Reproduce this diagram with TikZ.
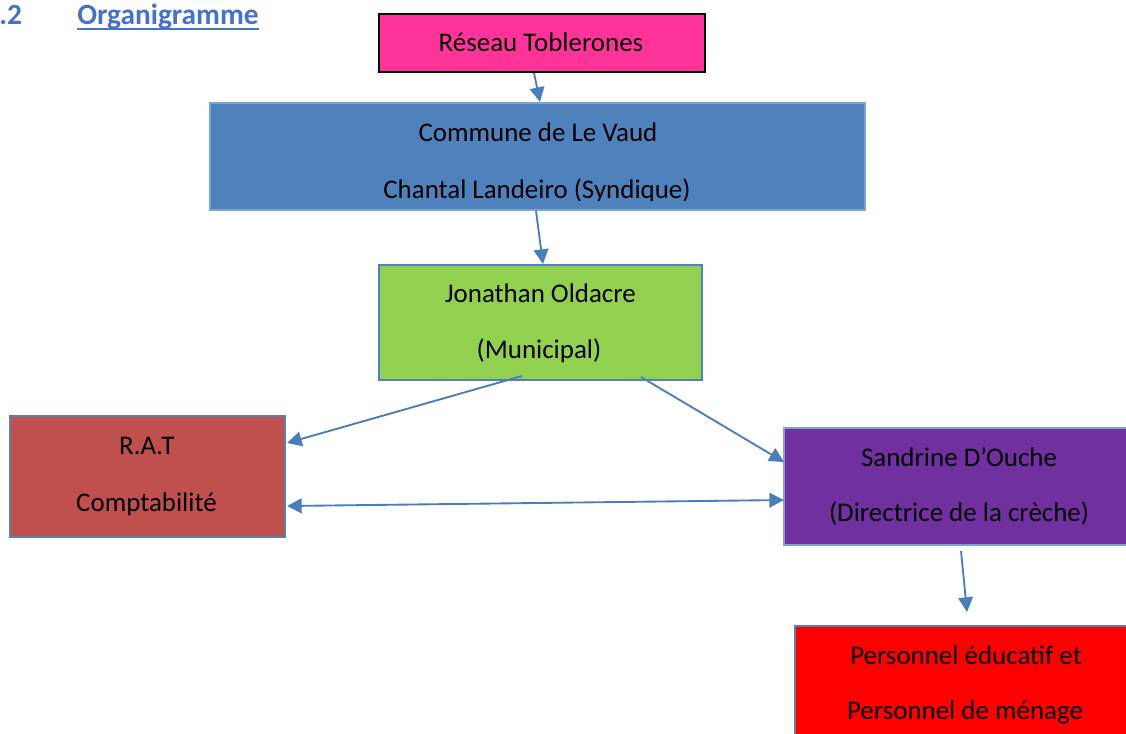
\documentclass[tikz,border=0pt]{standalone}
\usepackage{fontspec}
\setmainfont{Carlito}
\usetikzlibrary{arrows.meta,calc}
\definecolor{cpink}{HTML}{FF3399}
\definecolor{cblue}{HTML}{4F81BD}
\definecolor{cgreen}{HTML}{92D050}
\definecolor{crat}{HTML}{C0504D}
\definecolor{cpurple}{HTML}{7030A0}
\definecolor{cred}{HTML}{FF0000}
\definecolor{carrow}{HTML}{4A7EBB}
\definecolor{chead}{HTML}{4472C4}
\definecolor{bblue}{HTML}{7FA3D0}
\definecolor{bgray}{HTML}{5B80AE}
\begin{document}
\begin{tikzpicture}[x=0.75pt,y=-0.75pt,
  box/.style={draw, line width=1.5pt, rectangle, inner sep=0pt},
  lbl/.style={inner sep=0pt, anchor=base, font=\fontsize{20.2}{24}\selectfont},
  conn/.style={carrow, line width=1.4pt, -{Triangle[length=11pt,width=11pt]}},
  dconn/.style={carrow, line width=1.4pt, {Triangle[length=11pt,width=11pt]}-{Triangle[length=11pt,width=11pt]}}]
\useasboundingbox (0,0) rectangle (1126,733);
\clip (0,0) rectangle (1126,733);
% heading
\node[inner sep=0pt, anchor=base west, text=chead, font=\fontsize{22}{26}\selectfont\bfseries] (num) at (-1,24) {.2};
\node[inner sep=0pt, anchor=base west, text=chead, font=\fontsize{22}{26}\selectfont\bfseries] (head) at (77,24) {Organigramme};
\draw[chead, line width=1.4pt] ($(head.base west)+(0,5)$) -- ($(head.base east)+(0,5)$);
% boxes
\node[box, draw=black, fill=cpink, minimum width=244.5pt, minimum height=43.5pt] (pink) at (542,43) {};
\node[box, draw=bblue, fill=cblue, minimum width=491.25pt, minimum height=80.25pt] (blue) at (537.5,156.5) {};
\node[box, draw=cblue, fill=cgreen, minimum width=242.25pt, minimum height=86.25pt] (green) at (540.5,322.5) {};
\node[box, draw=bgray, fill=crat, minimum width=206.25pt, minimum height=90.75pt] (rat) at (147.5,476.5) {};
\node[box, draw=bblue, fill=cpurple, minimum width=262.5pt, minimum height=87.75pt] (purple) at (959,486.5) {};
\node[box, draw=bgray, fill=cred, minimum width=255.75pt, minimum height=90pt] (red) at (965.5,686) {};
% labels
\node[lbl] (t1) at (541,51) {Réseau Toblerones};
\begin{scope}
\clip (210,103) rectangle (865,200);
\node[lbl] (t2a) at (538,141) {Commune de Le Vaud};
\node[lbl] (t2b) at (537,198) {Chantal Landeiro (Syndique)};
\end{scope}
\node[lbl] (t3a) at (540.5,302) {Jonathan Oldacre};
\node[lbl] (t3b) at (539,358) {(Municipal)};
\node[lbl] (t4a) at (146.7,454) {R.A.T};
\node[lbl] (t4b) at (146.5,511) {Comptabilité};
\node[lbl] (t5a) at (959,466) {Sandrine D’Ouche};
\node[lbl] (t5b) at (959,521) {(Directrice de la crèche)};
\node[lbl] (t6a) at (966,664) {Personnel éducatif et};
\node[lbl] (t6b) at (965,719) {Personnel de ménage};
% connectors
\draw[conn] ($(pink.south)+(-8,0)$) -- ($(blue.north)+(2.5,0)$);
\draw[conn] ($(blue.south)+(-1.5,0)$) -- ($(green.north)+(2.5,0)$);
\draw[conn] ($(green.south)+(-18.5,-5)$) -- ($(rat.east)+(1,-33.5)$);
\draw[conn] ($(green.south)+(100.5,-4)$) -- ($(purple.west)+(1,-24.5)$);
\draw[dconn] ($(rat.east)+(1,29.5)$) -- ($(purple.west)+(1,13.5)$);
\draw[conn] ($(purple.south)+(2,5)$) -- ($(red.north)+(1.5,-13)$);
\end{tikzpicture}
\end{document}
